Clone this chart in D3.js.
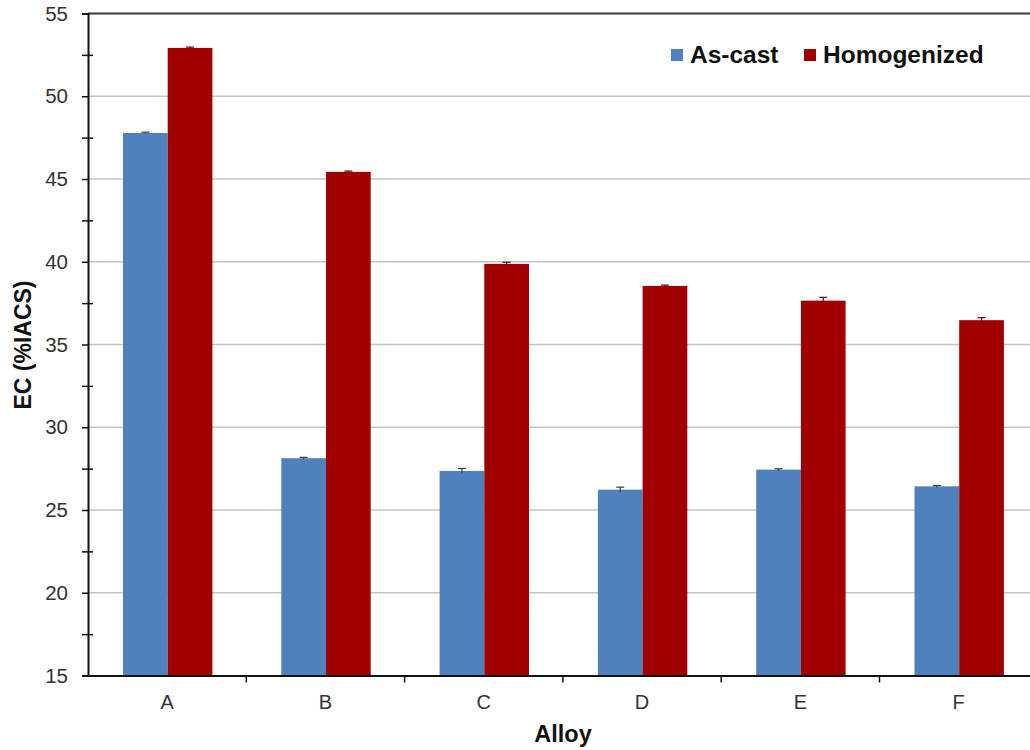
<!DOCTYPE html>
<html>
<head>
<meta charset="utf-8">
<script src="https://cdn.jsdelivr.net/npm/d3@7"></script>
<style>
  html, body { margin: 0; padding: 0; background: #fff; }
  svg { display: block; font-family: Arial, 'Liberation Sans', sans-serif; }
</style>
</head>
<body>
<div id="chart"></div>
<script>
// ─── DATA ───────────────────────────────────────────────────────────────────────
const categories = ['A', 'B', 'C', 'D', 'E', 'F'];
const seriesNames = ['As-cast', 'Homogenized'];
const asCast = [47.78, 28.13, 27.36, 26.23, 27.44, 26.43];
const homogenized = [52.92, 45.43, 39.87, 38.54, 37.65, 36.47];
const asCastErr = [0.05, 0.05, 0.15, 0.15, 0.05, 0.05];
const homogenizedErr = [0.05, 0.05, 0.1, 0.05, 0.2, 0.15];
const yTicks = [15, 20, 25, 30, 35, 40, 45, 50, 55];
const yMinorTicks = [17.5, 22.5, 27.5, 32.5, 37.5, 42.5, 47.5, 52.5];
const colors = ['#4f81bd', '#a00000'];
const errColors = ['#2b3f5c', '#6a0000'];

// ─── DIMENSIONS ─────────────────────────────────────────────────────────────────
const W = 1030, H = 750;
const plotLeft = 88, plotTop = 13.5, plotBottom = 675.5;
const bandW = 158.3;
const FONT = "Arial, 'Liberation Sans', sans-serif";

const svg = d3.select('#chart').append('svg')
  .attr('width', W).attr('height', H)
  .style('background', '#fff');

// ─── SCALES ─────────────────────────────────────────────────────────────────────
const y = d3.scaleLinear().domain([15, 55]).range([plotBottom, plotTop]);
const x = d3.scaleBand().domain(categories)
  .range([plotLeft, plotLeft + bandW * categories.length]).padding(0);
const x1 = d3.scaleBand().domain(seriesNames).range([35, 35 + 89.4]).padding(0);

const rows = categories.map((c, i) => ({
  cat: c,
  vals: [
    { s: seriesNames[0], v: asCast[i], e: asCastErr[i], k: 0 },
    { s: seriesNames[1], v: homogenized[i], e: homogenizedErr[i], k: 1 }
  ]
}));

// ─── GRID ───────────────────────────────────────────────────────────────────────
svg.append('g').selectAll('line')
  .data(yTicks.filter(t => t > 15 && t < 55))
  .join('line')
  .attr('x1', plotLeft).attr('x2', W)
  .attr('y1', d => y(d)).attr('y2', d => y(d))
  .attr('stroke', '#c4c4c4').attr('stroke-width', 1.5);

// top border
svg.append('line')
  .attr('x1', plotLeft).attr('x2', W)
  .attr('y1', y(55)).attr('y2', y(55))
  .attr('stroke', '#3a3a3a').attr('stroke-width', 2);

// ─── BARS ───────────────────────────────────────────────────────────────────────
const groups = svg.append('g').selectAll('g')
  .data(rows).join('g')
  .attr('transform', d => `translate(${x(d.cat)},0)`);

groups.selectAll('rect')
  .data(d => d.vals).join('rect')
  .attr('x', d => x1(d.s))
  .attr('width', x1.bandwidth())
  .attr('y', d => y(d.v))
  .attr('height', d => y(15) - y(d.v))
  .attr('fill', d => colors[d.k]);

// error bars
const eb = groups.selectAll('g.err')
  .data(d => d.vals).join('g').attr('class', 'err');
eb.append('line')
  .attr('x1', d => x1(d.s) + x1.bandwidth() / 2)
  .attr('x2', d => x1(d.s) + x1.bandwidth() / 2)
  .attr('y1', d => y(d.v - d.e)).attr('y2', d => y(d.v + d.e))
  .attr('stroke', d => errColors[d.k]).attr('stroke-width', 1.2);
eb.append('line')
  .attr('x1', d => x1(d.s) + x1.bandwidth() / 2 - 4)
  .attr('x2', d => x1(d.s) + x1.bandwidth() / 2 + 4)
  .attr('y1', d => y(d.v + d.e)).attr('y2', d => y(d.v + d.e))
  .attr('stroke', d => errColors[d.k]).attr('stroke-width', 1.2);

// ─── AXES ───────────────────────────────────────────────────────────────────────
// Y major
const yAxis = svg.append('g')
  .attr('transform', `translate(${plotLeft},0)`)
  .attr('font-family', FONT)
  .call(d3.axisLeft(y).tickValues(yTicks).tickSize(6).tickPadding(14));
yAxis.attr('font-family', FONT);
yAxis.select('.domain').attr('stroke', '#111').attr('stroke-width', 2);
yAxis.selectAll('.tick line').attr('stroke', '#111').attr('stroke-width', 1.5);
yAxis.selectAll('.tick text')
  .style('font-size', '20.5px').attr('fill', '#333');

// Y minor (crossing)
const yMinor = svg.append('g')
  .attr('transform', `translate(${plotLeft + 5},0)`)
  .call(d3.axisLeft(y).tickValues(yMinorTicks).tickSize(11).tickFormat(''));
yMinor.select('.domain').remove();
yMinor.selectAll('.tick line').attr('stroke', '#111').attr('stroke-width', 1.5);

// X
const xAxis = svg.append('g')
  .attr('transform', `translate(0,${plotBottom})`)
  .call(d3.axisBottom(x).tickSize(0).tickPadding(19));
xAxis.attr('font-family', FONT);
xAxis.select('.domain').attr('stroke', '#111').attr('stroke-width', 2);
xAxis.selectAll('.tick text')
  .style('font-size', '20px').attr('fill', '#333');

// category boundary ticks
svg.append('g').selectAll('line')
  .data(categories.slice(1))
  .join('line')
  .attr('x1', d => x(d)).attr('x2', d => x(d))
  .attr('y1', plotBottom).attr('y2', plotBottom + 7)
  .attr('stroke', '#111').attr('stroke-width', 1.5);

// ─── LABELS ─────────────────────────────────────────────────────────────────────
svg.append('text')
  .attr('x', 563).attr('y', 742)
  .attr('text-anchor', 'middle')
  .style('font-size', '23.5px').style('font-weight', 'bold')
  .attr('fill', '#111')
  .text('Alloy');

svg.append('text')
  .attr('transform', 'translate(31,345) rotate(-90)')
  .attr('text-anchor', 'middle')
  .style('font-size', '23px').style('font-weight', 'bold')
  .attr('fill', '#111')
  .text('EC (%IACS)');

// ─── LEGEND ─────────────────────────────────────────────────────────────────────
const legendX = [671, 804];
const legend = svg.append('g').selectAll('g')
  .data(seriesNames).join('g')
  .attr('transform', (d, i) => `translate(${legendX[i]},0)`);
legend.append('rect')
  .attr('x', 0).attr('y', 49).attr('width', 12).attr('height', 12)
  .attr('fill', (d, i) => colors[i]);
legend.append('text')
  .attr('x', 19).attr('y', 62.5)
  .style('font-size', '24.5px').style('font-weight', 'bold')
  .attr('fill', '#111')
  .text(d => d);
</script>
</body>
</html>
